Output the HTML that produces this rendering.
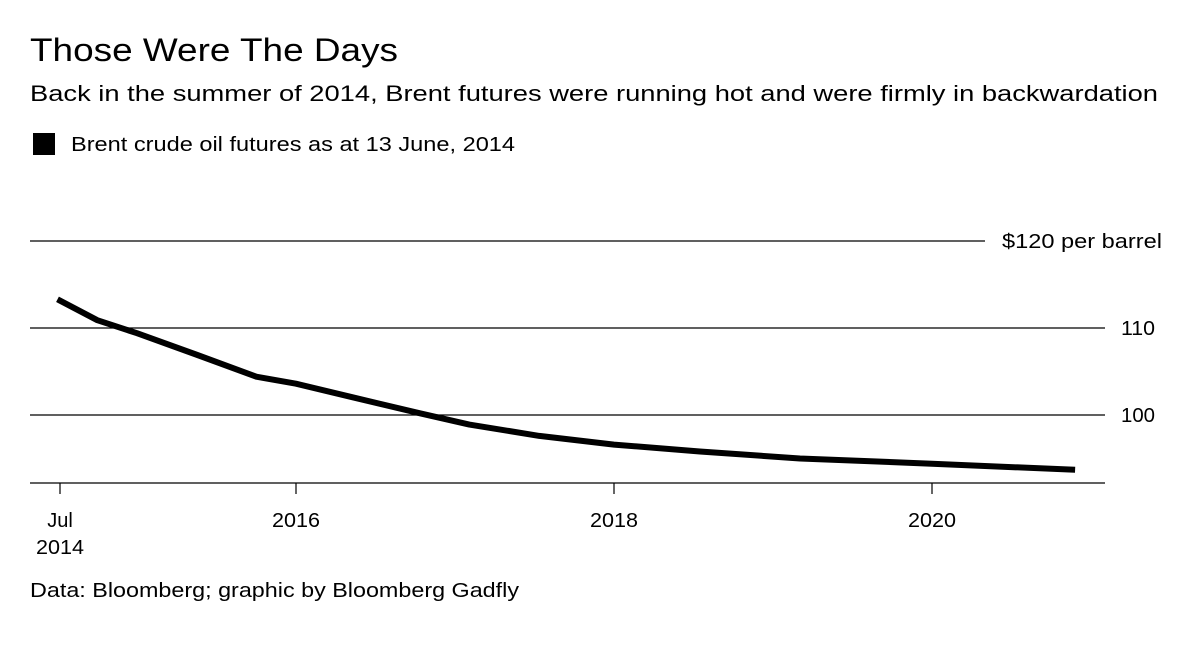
<!DOCTYPE html>
<html><head><meta charset="utf-8"><style>
body{margin:0;width:1200px;height:648px;background:#fff;font-family:"Liberation Sans",sans-serif;color:#000;overflow:hidden}
</style></head><body>
<svg width="1200" height="648" xmlns="http://www.w3.org/2000/svg" font-family="Liberation Sans, sans-serif">
<text x="30" y="61" font-size="32" textLength="368" lengthAdjust="spacingAndGlyphs">Those Were The Days</text>
<text x="30" y="101" font-size="22" textLength="1128" lengthAdjust="spacingAndGlyphs">Back in the summer of 2014, Brent futures were running hot and were firmly in backwardation</text>
<rect x="33" y="133" width="22" height="22" fill="#000"/>
<text x="71" y="151" font-size="20" textLength="444" lengthAdjust="spacingAndGlyphs">Brent crude oil futures as at 13 June, 2014</text>
<g id="grid"></g><g id="xaxis"></g>
<path id="line" fill="none" stroke="#000" stroke-width="6" stroke-linejoin="round"/>
<text x="30" y="597" font-size="20" textLength="489" lengthAdjust="spacingAndGlyphs">Data: Bloomberg; graphic by Bloomberg Gadfly</text>
</svg>
<script>
const dates=[2014.5,2014.75,2015.0,2015.38,2015.75,2016.0,2016.34,2016.78,2017.09,2017.53,2018.0,2018.54,2019.17,2020.0,2020.9];
const prices=[113.3,110.9,109.4,106.9,104.4,103.6,102.1,100.2,98.9,97.6,96.6,95.8,95.0,94.4,93.7];
const yTicks=[100,110,120];
const xTicks=[2014.5,2016,2018,2020];
const xLabels=[["Jul","2014"],["2016"],["2018"],["2020"]];
const X=d=>296+(d-2016)*159;
const Y=v=>415-(v-100)*8.7;
const NS="http://www.w3.org/2000/svg";
const g=document.getElementById('grid');
yTicks.forEach(t=>{
 const l=document.createElementNS(NS,'line');
 
 
 l.setAttribute('x1',30);l.setAttribute('x2',t===120?985:1105);
 l.setAttribute('y1',Y(t));l.setAttribute('y2',Y(t));
 l.setAttribute('stroke','#000');l.setAttribute('stroke-width',1.2);
 g.appendChild(l);
 const tx=document.createElementNS(NS,'text');
 
 
 tx.setAttribute('x',t===120?1002:1121);tx.setAttribute('y',Y(t)+7);
 tx.setAttribute('font-size',20);
 tx.setAttribute('textLength',t===120?160:34);
 tx.setAttribute('lengthAdjust','spacingAndGlyphs');
 tx.textContent=t===120?'$120 per barrel':t;
 g.appendChild(tx);
});
const xa=document.getElementById('xaxis');
const base=document.createElementNS(NS,'line');


base.setAttribute('x1',30);base.setAttribute('x2',1105);base.setAttribute('y1',483);base.setAttribute('y2',483);
base.setAttribute('stroke','#000');base.setAttribute('stroke-width',1.2);
xa.appendChild(base);
xTicks.forEach((t,i)=>{
 const l=document.createElementNS(NS,'line');
 
 
 const x=i===0?60:X(t);
 l.setAttribute('x1',x);l.setAttribute('x2',x);l.setAttribute('y1',483);l.setAttribute('y2',494);
 l.setAttribute('stroke','#000');l.setAttribute('stroke-width',1.2);
 xa.appendChild(l);
 xLabels[i].forEach((s,j)=>{
  const tx=document.createElementNS(NS,'text');
  
  
  tx.setAttribute('x',x);tx.setAttribute('y',527+j*27);
  tx.setAttribute('text-anchor','middle');tx.setAttribute('font-size',20);
  if(s.length===4){tx.setAttribute('textLength',48);tx.setAttribute('lengthAdjust','spacingAndGlyphs');}
  tx.textContent=s;xa.appendChild(tx);
 });
});
document.getElementById('line').setAttribute('d',dates.map((d,i)=>(i?'L':'M')+X(d).toFixed(1)+','+Y(prices[i]).toFixed(1)).join(''));
</script>
</body></html>
